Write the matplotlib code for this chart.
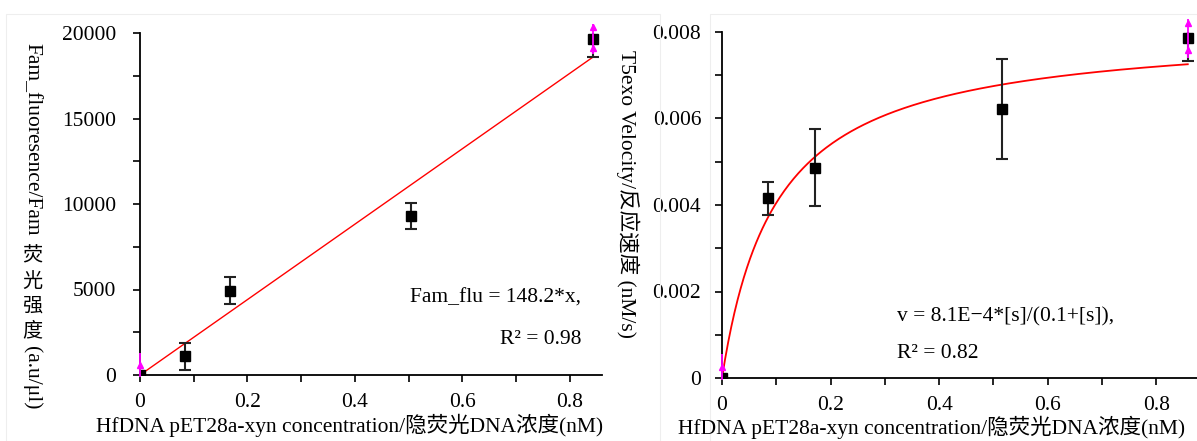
import numpy as np
import matplotlib
matplotlib.use("Agg")
import matplotlib.pyplot as plt
from matplotlib.ticker import MultipleLocator
from matplotlib.patches import Rectangle

plt.rcParams['font.family'] = ['Liberation Serif', 'Noto Sans CJK SC', 'DejaVu Sans']

# left panel: fluorescence vs concentration
flu_x = [0.0, 0.084, 0.168, 0.505, 0.843]
flu_y = [0, 1100, 4930, 9320, 19650]
flu_err = [0, 800, 800, 760, 1060]
flu_slope = 22050          # slope of the red line as drawn
flu_pink_y = [600, 19650]  # magenta marks at first / last points
flu_pink_err = [700, 900]

# right panel: T5exo velocity vs concentration
vel_x = [0.0, 0.085, 0.172, 0.516, 0.858]
vel_y = [0.0, 0.00416, 0.00486, 0.00622, 0.00786]
vel_err = [0, 0.00038, 0.00089, 0.00116, 0.00053]
vmax, km = 0.0081, 0.1
vel_pink_y = [0.00025, 0.00786]
vel_pink_err = [0.0003, 0.00045]

W, H = 1197, 441
fig = plt.figure(figsize=(W / 100, H / 100), dpi=100)

def px(x, y):
    return x / W, 1 - y / H

# faint frames of the two original pictures
fig.patches.append(Rectangle(px(6, 441), 654 / W, 427 / H, transform=fig.transFigure,
                             fill=False, ec='#eeeeee', lw=0.8))
fig.patches.append(Rectangle(px(710, 441), 490 / W, 427 / H, transform=fig.transFigure,
                             fill=False, ec='#eeeeee', lw=0.8))

ax1 = fig.add_axes([140 / W, 1 - 375 / H, 462 / W, 342 / H])
ax2 = fig.add_axes([722 / W, 1 - 378 / H, 475 / W, 346 / H])

FS = 15.5

def style(ax, xmax, ymax, ymaj, ymin_, ypad):
    ax.set_xlim(0, xmax)
    ax.set_ylim(0, ymax)
    for s in ['top', 'right']:
        ax.spines[s].set_visible(False)
    for s in ['left', 'bottom']:
        ax.spines[s].set_linewidth(1.3)
    ax.xaxis.set_major_locator(MultipleLocator(0.2))
    ax.xaxis.set_minor_locator(MultipleLocator(0.1))
    ax.yaxis.set_major_locator(MultipleLocator(ymaj))
    ax.yaxis.set_minor_locator(MultipleLocator(ymin_))
    ax.tick_params(which='both', direction='out', length=5, width=1.2, labelsize=FS)
    ax.tick_params(axis='y', pad=ypad)
    ax.tick_params(axis='x', pad=8)
    ax.patch.set_alpha(0)

style(ax1, 0.86, 20000, 5000, 2500, 12)
style(ax2, 0.875, 0.008, 0.002, 0.001, 10)
ax1.yaxis.set_major_formatter(lambda v, p: f"{v:.0f}")
ax2.yaxis.set_major_formatter(lambda v, p: "0" if v == 0 else f"{v:.3f}")
ax1.xaxis.set_major_formatter(lambda v, p: "0" if v == 0 else f"{v:.1f}")
ax2.xaxis.set_major_formatter(lambda v, p: "0" if v == 0 else f"{v:.1f}")

# left: fit line and points
xl = np.linspace(0.003, flu_x[-1], 100)
ax1.plot(xl, flu_slope * xl, color='red', lw=1.0, zorder=2)
ax1.errorbar(flu_x, flu_y, yerr=flu_err, fmt='s', color='black', ms=7,
             ecolor='#222222', elinewidth=1.5, capsize=4, capthick=1.5, zorder=3)
ax1.errorbar([flu_x[0], flu_x[-1]], flu_pink_y, yerr=flu_pink_err, fmt='none',
             ecolor='magenta', elinewidth=1.3, zorder=4, clip_on=False)
ax1.plot([flu_x[0], flu_x[-1], flu_x[-1]],
         [flu_pink_y[0], flu_pink_y[1] + flu_pink_err[1] * 0.75, flu_pink_y[1] - flu_pink_err[1] * 0.6],
         '^', color='magenta', ms=5, zorder=5, clip_on=False)
ax1.text(0.955, 0.225, "Fam_flu = 148.2*x,", transform=ax1.transAxes, ha='right',
         va='center', fontsize=FS)
ax1.text(0.955, 0.105, "R\u00b2 = 0.98", transform=ax1.transAxes, ha='right',
         va='center', fontsize=FS)

# right: Michaelis-Menten curve and points
xs = np.linspace(0, vel_x[-1], 300)
ax2.plot(xs, vmax * xs / (km + xs), color='red', lw=1.3, zorder=2)
ax2.errorbar(vel_x, vel_y, yerr=vel_err, fmt='s', color='black', ms=7,
             ecolor='#222222', elinewidth=1.5, capsize=4, capthick=1.5, zorder=3)
ax2.errorbar([vel_x[0], vel_x[-1]], vel_pink_y, yerr=vel_pink_err, fmt='none',
             ecolor='magenta', elinewidth=1.3, zorder=4, clip_on=False)
ax2.plot([vel_x[0], vel_x[-1], vel_x[-1]],
         [vel_pink_y[0], vel_pink_y[1] + vel_pink_err[1] * 0.75, vel_pink_y[1] - vel_pink_err[1] * 0.6],
         '^', color='magenta', ms=5, zorder=5, clip_on=False)
ax2.text(175 / 475, 1 - 285 / 346, "v = 8.1E\u22124*[s]/(0.1+[s]),", transform=ax2.transAxes,
         ha='left', va='center', fontsize=FS)
ax2.text(175 / 475, 1 - 321 / 346, "R\u00b2 = 0.82", transform=ax2.transAxes,
         ha='left', va='center', fontsize=FS)

# x labels
xlab = "HfDNA pET28a-xyn concentration/隐荧光DNA浓度(nM)"
fig.text(*px(350, 425), xlab, ha='center', va='center', fontsize=FS)
fig.text(*px(932, 427), xlab, ha='center', va='center', fontsize=FS)

# left y label: latin rotated, CJK upright and stacked
fig.text(*px(32, 43), "Fam_fluoresence/Fam", rotation=-90, ha='center', va='top', fontsize=FS)
for ch, yy in zip("荧光强度", [257, 282, 307, 332]):
    fig.text(*px(32, yy), ch, ha='center', va='center', fontsize=FS - 1)
fig.text(*px(32, 346), "(a.u/\u03bcl)", rotation=-90, ha='center', va='top', fontsize=FS)

# right y label
fig.text(*px(628, 50), "T5exo Velocity/反应速度 (nM/s)", rotation=-90, ha='center',
         va='top', fontsize=FS)

fig.savefig("out.png", dpi=100)
